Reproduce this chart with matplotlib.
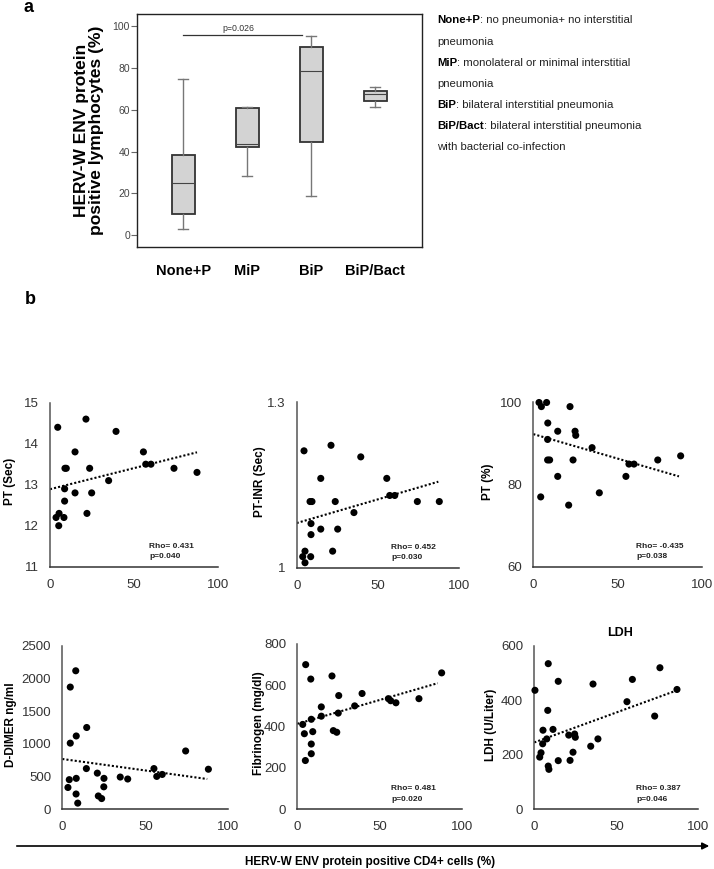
import matplotlib
matplotlib.use("Agg")
import matplotlib.pyplot as plt

plt.rcParams['font.family'] = ['Liberation Sans', 'DejaVu Sans']

# ---------------- data: panel a (box plot) ----------------
box_labels = ["None+P", "MiP", "BiP", "BiP/Bact"]
box_whislo = [2.7, 28.4, 18.7, 61.2]
box_q1 = [9.9, 42.2, 44.7, 64.3]
box_med = [24.8, 43.6, 78.7, 67.4]
box_q3 = [38.2, 61.0, 90.1, 69.1]
box_whishi = [74.7, 61.5, 95.5, 70.8]
box_yticks = [0, 20, 40, 60, 80, 100]
sig_span = [1.0, 2.86]
sig_level = 96.0
sig_text = "p=0.026"

legend_bold = ["None+P", "", "MiP", "", "BiP", "BiP/Bact", ""]
legend_rest = [": no pneumonia+ no interstitial", "pneumonia",
               ": monolateral or minimal interstitial", "pneumonia",
               ": bilateral interstitial pneumonia",
               ": bilateral interstitial pneumonia",
               "with bacterial co-infection"]

# ---------------- data: panel b (scatter plots) ----------------
pt_x = [4.6, 21.4, 39.3, 14.9, 55.6, 8.9, 9.7, 23.6, 57.0, 60.1, 73.8, 87.5, 34.9, 8.7, 14.9, 24.8, 8.7, 5.4, 3.6, 8.3, 22.0, 5.2]
pt_y = [14.4, 14.6, 14.3, 13.8, 13.8, 13.4, 13.4, 13.4, 13.5, 13.5, 13.4, 13.3, 13.1, 12.9, 12.8, 12.8, 12.6, 12.3, 12.2, 12.2, 12.3, 12.0]

inr_x = [4.5, 21.1, 39.4, 14.8, 55.4, 8.2, 9.4, 23.7, 57.2, 60.3, 74.2, 87.7, 35.2, 8.8, 14.8, 25.2, 8.8, 5.1, 3.7, 8.6, 22.1, 5.1]
inr_y = [1.212, 1.222, 1.201, 1.162, 1.162, 1.12, 1.12, 1.12, 1.131, 1.131, 1.12, 1.12, 1.10, 1.08, 1.07, 1.07, 1.06, 1.03, 1.02, 1.02, 1.03, 1.009]

ptp_x = [3.4, 7.9, 4.8, 21.8, 8.6, 14.5, 24.8, 25.2, 8.5, 34.9, 8.5, 9.7, 23.6, 56.8, 59.8, 73.9, 87.5, 14.5, 55.0, 4.4, 21.0, 39.2]
ptp_y = [100, 100, 99, 99, 95, 93, 93, 92, 91, 89, 86, 86, 86, 85, 85, 86, 87, 82, 82, 77, 75, 78]

dd_x = [8.1, 4.8, 14.7, 8.4, 4.8, 74.3, 14.5, 55.2, 88.0, 21.1, 56.9, 60.2, 34.9, 39.4, 4.2, 8.4, 25.1, 3.4, 25.0, 8.3, 21.7, 23.7, 9.3]
dd_y = [2120, 1870, 1250, 1120, 1010, 890, 620, 620, 610, 550, 500, 530, 490, 460, 450, 470, 470, 330, 340, 230, 200, 160, 90]

fib_x = [5.1, 8.2, 21.1, 87.8, 25.2, 39.4, 55.4, 56.8, 60.0, 74.0, 14.6, 34.9, 24.9, 14.6, 8.5, 3.3, 4.3, 9.4, 21.9, 24.0, 8.5, 8.5, 4.9]
fib_y = [700, 630, 645, 660, 550, 560, 535, 525, 515, 535, 495, 500, 465, 450, 435, 410, 365, 375, 380, 372, 315, 268, 235]

ldh_x = [8.5, 76.6, 14.6, 59.8, 35.8, 0.4, 87.0, 56.5, 8.2, 73.4, 5.3, 11.4, 21.0, 24.6, 25.0, 38.8, 7.6, 5.1, 34.4, 23.6, 4.1, 3.3, 14.6, 21.8, 8.5, 8.9]
ldh_y = [535, 520, 470, 477, 460, 437, 440, 395, 363, 342, 290, 293, 272, 276, 264, 258, 258, 240, 231, 209, 207, 191, 178, 179, 158, 146]

# trend lines: (x start, y start, x end, y end)
pt_trend = [0, 12.89, 87.5, 13.79]
inr_trend = [0, 1.081, 87.1, 1.156]
ptp_trend = [0, 92.3, 86.5, 82.0]
dd_trend = [0, 767, 87.3, 460]
fib_trend = [0, 413, 85.4, 610]
ldh_trend = [0, 245, 86.2, 435]

pt_yticks = [11, 12, 13, 14, 15]
inr_yticks = [1, 1.3]
ptp_yticks = [60, 80, 100]
dd_yticks = [0, 500, 1000, 1500, 2000, 2500]
fib_yticks = [0, 200, 400, 600, 800]
ldh_yticks = [0, 200, 400, 600]
x_ticks = [0, 50, 100]

pt_stats = ["Rho= 0.431", "p=0.040"]
inr_stats = ["Rho= 0.452", "p=0.030"]
ptp_stats = ["Rho= -0.435", "p=0.038"]
fib_stats = ["Rho= 0.481", "p=0.020"]
ldh_stats = ["Rho= 0.387", "p=0.046"]

# ---------------- figure ----------------
W, H = 714, 869
fig = plt.figure(figsize=(W / 100, H / 100), dpi=100)


def add_ax(x0, y0, x1, y1):
    return fig.add_axes([x0 / W, 1 - y1 / H, (x1 - x0) / W, (y1 - y0) / H])


def ftext(x, y, s, **kw):
    return fig.text(x / W, 1 - y / H, s, **kw)


# ---- panel a ----
axa = add_ax(137, 14, 422, 247)
stats = []
for i in range(len(box_labels)):
    stats.append(dict(med=box_med[i], q1=box_q1[i], q3=box_q3[i],
                      whislo=box_whislo[i], whishi=box_whishi[i], fliers=[]))
positions = list(range(1, len(box_labels) + 1))
axa.bxp(stats, positions=positions, widths=0.36, capwidths=0.16,
        patch_artist=True, showfliers=False,
        boxprops=dict(facecolor="#d3d3d3", edgecolor="#333333", linewidth=1.3),
        whiskerprops=dict(color="#777777", linewidth=1.0),
        capprops=dict(color="#777777", linewidth=1.0),
        medianprops=dict(color="#444444", linewidth=0.8))
axa.set_xlim(0.28, 4.73)
axa.set_ylim(-5.7, 105.9)
axa.set_yticks(box_yticks)
axa.set_yticklabels([str(v) for v in box_yticks], fontsize=7.5, color="#444444")
axa.tick_params(axis="y", length=4, width=0.8, color="#666666", pad=1)
axa.set_xticks(positions)
axa.set_xticklabels(box_labels, fontsize=10.5, fontweight="bold")
axa.tick_params(axis="x", length=0, pad=12)
for sp in axa.spines.values():
    sp.set_linewidth(1.0)
    sp.set_color("#222222")
axa.plot(sig_span, [sig_level, sig_level], color="#333333", lw=0.9)
axa.text(sum(sig_span) / 2 - 0.07, sig_level + 0.8, sig_text, ha="center", va="bottom",
         fontsize=6.3, color="#333333")
axa.set_ylabel("HERV-W ENV protein\npositive lymphocytes (%)", fontsize=12.5,
               fontweight="bold", labelpad=6, linespacing=1.05)

# legend text
leg_y = [20, 42, 63, 84, 105, 126, 147]
for yb, b, r in zip(leg_y, legend_bold, legend_rest):
    if b:
        tb = ftext(437, yb, b, fontsize=8.2, fontweight="bold", va="center", ha="left")
        fig.add_artist(plt.Annotation(r, xy=(1, 0.5), xycoords=tb, va="center",
                                      ha="left", fontsize=8.2, color="#222222"))
    else:
        ftext(437, yb, r, fontsize=8.2, va="center", ha="left", color="#222222")

ftext(29, 8, "a", fontsize=13, fontweight="bold", ha="center", va="center")
ftext(30, 300, "b", fontsize=13, fontweight="bold", ha="center", va="center")

# ---- panel b ----
panels = [
    dict(rect=(50, 402.7, 218, 566.7), x=pt_x, y=pt_y, trend=pt_trend, yt=pt_yticks,
         ylim=(11, 15), ylab="PT (Sec)", labx=10, stats=pt_stats, sx=0.59),
    dict(rect=(296.7, 402.3, 459.3, 567.7), x=inr_x, y=inr_y, trend=inr_trend, yt=inr_yticks,
         ylim=(1, 1.3), ylab="PT-INR (Sec)", labx=260, stats=inr_stats, sx=0.58),
    dict(rect=(533.3, 402.5, 701.7, 566.7), x=ptp_x, y=ptp_y, trend=ptp_trend, yt=ptp_yticks,
         ylim=(60, 100), ylab="PT (%)", labx=488, stats=ptp_stats, sx=0.61),
    dict(rect=(62.3, 646, 228.3, 809), x=dd_x, y=dd_y, trend=dd_trend, yt=dd_yticks,
         ylim=(0, 2500), ylab="D-DIMER ng/ml", labx=11, stats=None, sx=0.6),
    dict(rect=(297.3, 644, 461.7, 809), x=fib_x, y=fib_y, trend=fib_trend, yt=fib_yticks,
         ylim=(0, 800), ylab="Fibrinogen (mg/dl)", labx=259, stats=fib_stats, sx=0.57),
    dict(rect=(534.3, 646, 698.3, 809), x=ldh_x, y=ldh_y, trend=ldh_trend, yt=ldh_yticks,
         ylim=(0, 600), ylab="LDH (U/Liter)", labx=491, stats=ldh_stats, sx=0.62),
]

for p in panels:
    x0, y0, x1, y1 = p["rect"]
    ax = add_ax(x0, y0, x1, y1)
    ax.scatter(p["x"], p["y"], s=26, color="black", edgecolors="none", zorder=3, clip_on=False)
    t = p["trend"]
    ax.plot([t[0], t[2]], [t[1], t[3]], color="black", lw=1.5, linestyle=(0, (1, 1)), zorder=2)
    ax.set_xlim(0, 100)
    ax.set_ylim(*p["ylim"])
    ax.set_yticks(p["yt"])
    ax.set_yticklabels(["{:g}".format(v) for v in p["yt"]], fontsize=9.5, color="#333333")
    ax.set_xticks(x_ticks)
    ax.set_xticklabels([str(v) for v in x_ticks], fontsize=9.5, color="#333333")
    ax.tick_params(axis="both", length=0)
    ax.tick_params(axis="y", pad=8)
    ax.tick_params(axis="x", pad=9)
    for s in ("top", "right"):
        ax.spines[s].set_visible(False)
    ax.spines["left"].set_color("#555555")
    ax.spines["bottom"].set_color("#333333")
    ax.spines["left"].set_linewidth(1.1)
    ax.spines["bottom"].set_linewidth(1.1)
    ftext(p["labx"], (y0 + y1) / 2 - 3, p["ylab"], rotation=90, fontsize=8.5,
          fontweight="bold", ha="center", va="center")
    if p["stats"]:
        ax.text(p["sx"], 0.125, p["stats"][0], transform=ax.transAxes, fontsize=6,
                fontweight="bold", ha="left", va="center", color="#222222")
        ax.text(p["sx"], 0.06, p["stats"][1], transform=ax.transAxes, fontsize=6,
                fontweight="bold", ha="left", va="center", color="#222222")

ftext(620, 633, "LDH", fontsize=9, fontweight="bold", ha="center", va="center")

# bottom axis arrow and label
fig.add_artist(matplotlib.patches.FancyArrowPatch(
    (14 / W, 1 - 846 / H), (712 / W, 1 - 846 / H), transform=fig.transFigure,
    arrowstyle="-|>", mutation_scale=10, color="black", lw=1.2))
ftext(370, 862, "HERV-W ENV protein positive CD4+ cells (%)", fontsize=8.5,
      fontweight="bold", ha="center", va="center")

fig.savefig("out.png", dpi=100)
